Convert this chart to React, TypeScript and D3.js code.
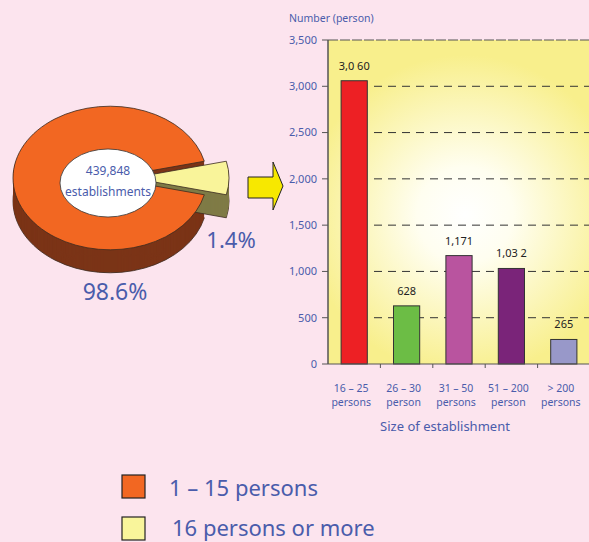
import React from 'react';
import * as d3 from 'd3';

// pie (size of establishment share)
const pieLabels = ['1 – 15 persons', '16 persons or more'];
const pieShares = [98.6, 1.4];
const pieShareLabels = ['98.6%', '1.4%'];
const pieCenterText = ['439,848', 'establishments'];

// bar (establishments with 16 persons or more)
const barCatLine1 = ['16 – 25', '26 – 30', '31 – 50', '51 – 200', '> 200'];
const barCatLine2 = ['persons', 'person', 'persons', 'person', 'persons'];
const barValues = [3060, 628, 1171, 1032, 265];
const barValueLabels = ['3,0 60', '628', '1,171', '1,03 2', '265'];
const yTicks = [0, 500, 1000, 1500, 2000, 2500, 3000, 3500];

const W = 589;
const H = 542;
const BLUE = '#4a5cab';
const barColors = ['#ed2024', '#6cbd45', '#b9549f', '#7a2479', '#9898c9'];

const plot = { left: 328, right: 592, top: 40, bottom: 364 };

// pie geometry
const pie3d = { cx: 110, cy: 178, r: 97, squash: 0.74, depth: 23, explode: 22 };
const minSliceShare = 8; // thin slice is drawn wider so it can be seen

const App = () => {
  const x = d3
    .scaleBand<string>()
    .domain(barCatLine1)
    .range([plot.left, 590])
    .paddingInner(0.5)
    .paddingOuter(0.25);
  const y = d3.scaleLinear().domain([0, 3500]).range([plot.bottom, plot.top]);
  const fmt = d3.format(',');

  const weights = pieShares.map((d) => Math.max(d, minSliceShare));
  const sum = d3.sum(weights);
  const smallAngle = (2 * Math.PI * weights[1]) / sum;
  const start = Math.PI / 2 + smallAngle / 2;
  const slices = d3
    .pie<number>()
    .sort(null)
    .value((d, i) => weights[i])
    .startAngle(start)
    .endAngle(start + 2 * Math.PI)(pieShares);
  const arc = d3.arc<d3.PieArcDatum<number>>().innerRadius(0).outerRadius(pie3d.r);

  const offset = (i: number) => {
    if (i === 0) return [0, 0];
    const s = slices[i];
    const m = (s.startAngle + s.endAngle) / 2;
    return [Math.sin(m) * pie3d.explode, -Math.cos(m) * pie3d.explode];
  };
  const topColors = ['#f26722', '#f9f49a'];
  const sideColors = ['#7b3417', '#7f7b46'];

  const drawSlice = (i: number) => {
    const [dx, dy] = offset(i);
    const d = arc(slices[i]) as string;
    const tf = (k: number) =>
      `translate(${pie3d.cx},${pie3d.cy + k}) scale(1,${pie3d.squash}) translate(${dx},${dy})`;
    return {
      sides: d3.range(pie3d.depth, 0, -1).map((k) => (
        <path
          key={`s${i}-${k}`}
          d={d}
          transform={tf(k)}
          fill={sideColors[i]}
          stroke={k === pie3d.depth ? '#3a2a20' : 'none'}
          strokeWidth={0.8}
          vectorEffect="non-scaling-stroke"
        />
      )),
      top: (
        <path
          key={`t${i}`}
          d={d}
          transform={tf(0)}
          fill={topColors[i]}
          stroke="#3a2a20"
          strokeWidth={0.8}
          vectorEffect="non-scaling-stroke"
        />
      ),
    };
  };
  const big = drawSlice(0);
  const small = drawSlice(1);

  return (
    <svg
      width={W}
      height={H}
      style={{ position: 'absolute', left: 0, top: 0, display: 'block' }}
      fontFamily="'Noto Sans', sans-serif"
    >
      <defs>
        <radialGradient id="glow" gradientUnits="userSpaceOnUse" cx={465} cy={215} r={160}>
          <stop offset="0" stopColor="#ffffff" />
          <stop offset="0.3" stopColor="#fffef0" />
          <stop offset="1" stopColor="#f8ef8c" />
        </radialGradient>
      </defs>
      <rect width={W} height={H} fill="#fce4ee" />

      {/* pie */}
      <g>
        {big.sides}
        {small.sides}
        {small.top}
        {big.top}
        <ellipse cx={108} cy={183} rx={48} ry={34} fill="#fff" stroke="#333" strokeWidth={0.8} />
        <text x={108} y={175} textAnchor="middle" fontSize={12} fill={BLUE}>
          {pieCenterText[0]}
        </text>
        <text x={108} y={196} textAnchor="middle" fontSize={12} fill={BLUE}>
          {pieCenterText[1]}
        </text>
        <text x={115} y={300} textAnchor="middle" fontSize={23} fill={BLUE}>
          {pieShareLabels[0]}
        </text>
        <text x={231} y={248} textAnchor="middle" fontSize={22} fill={BLUE}>
          {pieShareLabels[1]}
        </text>
      </g>

      {/* arrow */}
      <polygon
        points="248,177 273,177 273,162 283,186 273,210 273,198 248,198"
        fill="#f7e800"
        stroke="#222"
        strokeWidth={1}
      />

      {/* bar chart */}
      <text x={289} y={22} fontSize={10.5} fill={BLUE}>
        Number (person)
      </text>
      <rect
        x={plot.left}
        y={plot.top}
        width={plot.right - plot.left}
        height={plot.bottom - plot.top}
        fill="url(#glow)"
      />
      {yTicks
        .filter((t) => t > 0 && t < 3500)
        .map((t) => (
          <line
            key={`g${t}`}
            x1={plot.left + 46}
            x2={plot.right}
            y1={y(t)}
            y2={y(t)}
            stroke="#333"
            strokeDasharray="8,6"
          />
        ))}
      <line
        x1={plot.left}
        x2={plot.right}
        y1={y(3500)}
        y2={y(3500)}
        stroke="#555"
        strokeWidth={1.2}
        strokeDasharray="10,2"
      />
      {barValues.map((v, i) => (
        <g key={`b${i}`}>
          <rect
            x={x(barCatLine1[i])}
            y={y(v)}
            width={x.bandwidth()}
            height={y(0) - y(v)}
            fill={barColors[i]}
            stroke="#333"
            strokeWidth={1}
          />
          <text
            x={(x(barCatLine1[i]) as number) + x.bandwidth() / 2}
            y={y(v) - 11}
            textAnchor="middle"
            fontSize={11}
            fill="#222"
          >
            {barValueLabels[i]}
          </text>
          <text
            x={(x(barCatLine1[i]) as number) + x.bandwidth() / 2 - 3}
            y={392}
            textAnchor="middle"
            fontSize={10.5}
            fill={BLUE}
          >
            {barCatLine1[i]}
          </text>
          <text
            x={(x(barCatLine1[i]) as number) + x.bandwidth() / 2 - 3}
            y={406}
            textAnchor="middle"
            fontSize={10.5}
            fill={BLUE}
          >
            {barCatLine2[i]}
          </text>
          {i > 0 && (
            <line
              x1={(x(barCatLine1[i]) as number) - x.step() * 0.25}
              x2={(x(barCatLine1[i]) as number) - x.step() * 0.25}
              y1={plot.bottom}
              y2={plot.bottom + 4}
              stroke="#555"
            />
          )}
        </g>
      ))}
      {/* y axis */}
      <line x1={plot.left} x2={plot.left} y1={plot.top} y2={plot.bottom} stroke="#555" strokeWidth={1.5} />
      <line x1={plot.left} x2={plot.right} y1={plot.bottom} y2={plot.bottom} stroke="#555" strokeWidth={1.2} />
      {yTicks.map((t) => (
        <g key={`y${t}`}>
          <line x1={plot.left - 6} x2={plot.left} y1={y(t)} y2={y(t)} stroke="#555" />
          <text x={317} y={y(t)} dy="0.35em" textAnchor="end" fontSize={11} fill={BLUE}>
            {fmt(t)}
          </text>
        </g>
      ))}
      <text x={445} y={431} textAnchor="middle" fontSize={13} fill={BLUE}>
        Size of establishment
      </text>

      {/* legend */}
      {pieLabels.map((l, i) => (
        <g key={`l${i}`} transform={`translate(122,${475 + i * 42})`}>
          <rect width={23} height={23} fill={i === 0 ? '#f26722' : '#f9f59b'} stroke="#222" strokeWidth={1.2} />
          <text x={47 + i * 3} y={21 - i * 2} fontSize={22} fill={BLUE}>
            {l}
          </text>
        </g>
      ))}
    </svg>
  );
};

export default App;
